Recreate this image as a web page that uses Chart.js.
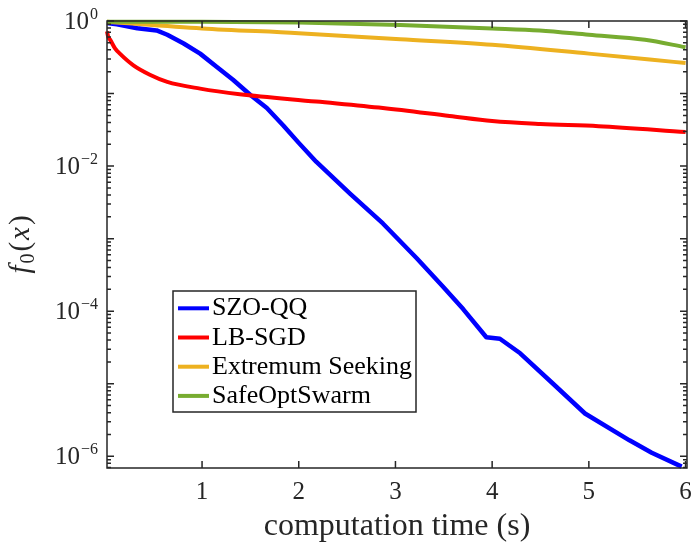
<!DOCTYPE html>
<html>
<head>
<meta charset="utf-8">
<script src="https://cdn.jsdelivr.net/npm/chart.js@4.4.0/dist/chart.umd.min.js"></script>
<style>
  html, body { margin: 0; padding: 0; background: #fff; }
  #chart { display: block; }
</style>
</head>
<body>
<canvas id="chart" width="691" height="546"></canvas>
<script>
// values: time (s) and f0(x)
const seriesNames = ['SZO-QQ', 'LB-SGD', 'Extremum Seeking', 'SafeOptSwarm'];
const seriesColors = ['#0000ff', '#ff0000', '#edb120', '#77ac30'];

const szoTime = [0.017, 0.12, 0.33, 0.53, 0.64, 0.81, 0.98, 1.15, 1.32, 1.50, 1.67, 1.84, 2.00, 2.18,
  2.53, 2.87, 3.22, 3.49, 3.70, 3.94, 4.08, 4.29, 4.63, 4.96, 5.42, 5.65, 5.96];
const szoValue = [0.935, 0.90, 0.794, 0.741, 0.646, 0.490, 0.355, 0.234, 0.155, 0.0955, 0.0631, 0.0363,
  0.0209, 0.0115, 0.00417, 0.00162, 5.37e-4, 2.19e-4, 1.07e-4, 4.37e-5, 4.17e-5, 2.63e-5, 1.0e-5,
  3.89e-6, 1.66e-6, 1.12e-6, 7.2e-7];

const lbTime = [0.017, 0.03, 0.05, 0.10, 0.15, 0.29, 0.46, 0.64, 0.98, 1.39, 2.18, 2.87, 3.56, 4.0, 4.5, 5.10, 6.0];
const lbValue = [0.72, 0.60, 0.55, 0.42, 0.355, 0.245, 0.182, 0.145, 0.117, 0.098, 0.0776, 0.0631,
  0.049, 0.0417, 0.038, 0.0355, 0.0295];

const esTime = [0.017, 1.0, 2.0, 3.05, 4.0, 5.0, 5.63, 6.0];
const esValue = [0.98, 0.79, 0.68, 0.56, 0.47, 0.355, 0.295, 0.263];

const sosTime = [0.017, 1.0, 2.0, 3.05, 4.0, 4.49, 5.0, 5.58, 6.0];
const sosValue = [0.975, 0.98, 0.955, 0.88, 0.79, 0.74, 0.645, 0.55, 0.435];

const xTicks = [1, 2, 3, 4, 5, 6];
const yDecades = [1, 1e-1, 1e-2, 1e-3, 1e-4, 1e-5, 1e-6, 1e-7];
const yLabelTicks = [1, 1e-2, 1e-4, 1e-6];
const yLabelExponents = ['0', '\u22122', '\u22124', '\u22126'];

const axisColor = '#262626';
const serif = '"Liberation Serif", "Times New Roman", serif';

function toPoints(xs, ys) {
  return xs.map((x, i) => ({ x: x, y: ys[i] }));
}

const allSeries = [
  toPoints(szoTime, szoValue),
  toPoints(lbTime, lbValue),
  toPoints(esTime, esValue),
  toPoints(sosTime, sosValue)
];

// frame, MATLAB-style inward ticks, tick labels, axis labels and legend
const frameAndText = {
  id: 'frameAndText',
  afterDatasetsDraw(chart) {
    const ctx = chart.ctx;
    const a = chart.chartArea;
    const xs = chart.scales.x;
    const ys = chart.scales.y;

    ctx.save();
    ctx.strokeStyle = axisColor;
    ctx.lineWidth = 1.5;
    ctx.strokeRect(a.left, a.top, a.right - a.left, a.bottom - a.top);

    ctx.beginPath();
    xTicks.forEach(v => {
      const px = xs.getPixelForValue(v);
      ctx.moveTo(px, a.bottom); ctx.lineTo(px, a.bottom - 7);
      ctx.moveTo(px, a.top); ctx.lineTo(px, a.top + 7);
    });
    yDecades.forEach(d => {
      for (let m = 1; m <= 9; m++) {
        const v = d * m;
        if (v < ys.min || v > ys.max * 1.0001) continue;
        const py = ys.getPixelForValue(v);
        const len = m === 1 ? 7 : 4;
        ctx.moveTo(a.left, py); ctx.lineTo(a.left + len, py);
        ctx.moveTo(a.right, py); ctx.lineTo(a.right - len, py);
      }
    });
    ctx.stroke();

    ctx.fillStyle = axisColor;
    // x tick labels
    ctx.font = '25px ' + serif;
    ctx.textAlign = 'center';
    ctx.textBaseline = 'alphabetic';
    xTicks.forEach(v => {
      ctx.fillText(String(v), xs.getPixelForValue(v), a.bottom + 31);
    });

    // y tick labels 10^k
    yLabelTicks.forEach((v, i) => {
      const py = ys.getPixelForValue(v);
      ctx.textAlign = 'right';
      ctx.font = '16px ' + serif;
      const ew = ctx.measureText(yLabelExponents[i]).width;
      ctx.fillText(yLabelExponents[i], 98, py - 2);
      ctx.font = '25px ' + serif;
      ctx.fillText('10', 98 - ew - 1, py + 8);
    });

    // x axis label
    ctx.font = '32px ' + serif;
    ctx.textAlign = 'center';
    ctx.fillText('computation time (s)', (a.left + a.right) / 2, 535);

    // y axis label f_0(x)
    const parts = [
      { t: 'f', font: 'italic 29px ' + serif, dy: 0 },
      { t: '0', font: '20px ' + serif, dy: 5 },
      { t: '(', font: '29px ' + serif, dy: 0 },
      { t: 'x', font: 'italic 29px ' + serif, dy: 0 },
      { t: ')', font: '29px ' + serif, dy: 0 }
    ];
    const gap = 2;
    let total = 0;
    parts.forEach(p => { ctx.font = p.font; p.w = ctx.measureText(p.t).width; total += p.w; });
    total += gap * (parts.length - 1);
    ctx.save();
    ctx.translate(22, (a.top + a.bottom) / 2);
    ctx.rotate(-Math.PI / 2);
    ctx.textAlign = 'left';
    let cx = -total / 2;
    parts.forEach(p => {
      ctx.font = p.font;
      ctx.fillText(p.t, cx, 7 + p.dy);
      cx += p.w + gap;
    });
    ctx.restore();

    // legend box
    const lg = { left: 173, top: 291, right: 416, bottom: 412 };
    ctx.fillStyle = '#ffffff';
    ctx.fillRect(lg.left, lg.top, lg.right - lg.left, lg.bottom - lg.top);
    ctx.lineWidth = 1.5;
    ctx.strokeStyle = axisColor;
    ctx.strokeRect(lg.left, lg.top, lg.right - lg.left, lg.bottom - lg.top);
    ctx.font = '26px ' + serif;
    ctx.textAlign = 'left';
    seriesNames.forEach((name, i) => {
      const ry = 308.3 + i * 29.2;
      ctx.strokeStyle = seriesColors[i];
      ctx.lineWidth = 4;
      ctx.beginPath();
      ctx.moveTo(178, ry); ctx.lineTo(209, ry);
      ctx.stroke();
      ctx.fillStyle = '#000000';
      ctx.fillText(name, 212, ry + 7);
    });
    ctx.restore();
  }
};

new Chart(document.getElementById('chart'), {
  type: 'line',
  data: {
    datasets: allSeries.map((pts, i) => ({
      label: seriesNames[i],
      data: pts,
      borderColor: seriesColors[i],
      backgroundColor: seriesColors[i],
      borderWidth: i === 0 ? 4.5 : 4,
      pointRadius: 0,
      fill: false,
      tension: 0,
      cubicInterpolationMode: i === 0 ? 'default' : 'monotone',
      borderJoinStyle: 'round',
      clip: false,
      order: 4 - i
    }))
  },
  options: {
    responsive: false,
    animation: false,
    devicePixelRatio: 1,
    layout: { padding: { top: 21, right: 4, left: 0, bottom: 0 } },
    plugins: {
      legend: { display: false },
      tooltip: { enabled: false }
    },
    scales: {
      x: {
        type: 'linear',
        min: 0.017,
        max: 6.015,
        grid: { display: false },
        border: { display: false },
        ticks: { display: false },
        afterFit: s => { s.height = 78; }
      },
      y: {
        type: 'logarithmic',
        min: 6.9e-7,
        max: 1,
        grid: { display: false },
        border: { display: false },
        ticks: { display: false },
        afterFit: s => { s.width = 107; }
      }
    }
  },
  plugins: [frameAndText]
});
</script>
</body>
</html>
